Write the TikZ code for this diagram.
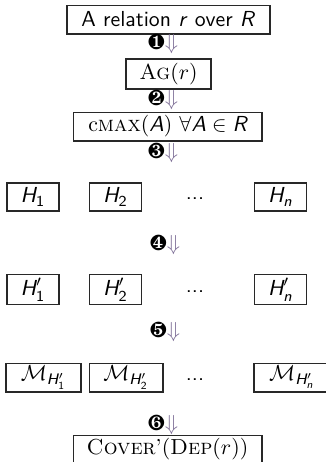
\documentclass[tikz,border=0pt]{standalone}
\usepackage{amsmath}
\usepackage{amssymb}
\usepackage{pifont}
\definecolor{arr}{RGB}{125,110,150}
\definecolor{boxline}{RGB}{40,40,40}
\newcommand\sfH{\text{\sffamily\itshape H}}
\newcommand\sfA{\text{\sffamily\itshape A}}
\newcommand\sfR{\text{\sffamily\itshape R}}
\newcommand\sfn{\text{\sffamily\itshape n}}
\newcommand\sfd[1]{\text{\sffamily #1}}
\newcommand\steplab[1]{\ding{#1}\textcolor{arr}{$\Downarrow$}}
\begin{document}
\begin{tikzpicture}[x=0.46pt,y=-0.46pt,
  box/.style={draw=boxline,line width=0.5pt,inner sep=0pt,minimum height=13.3pt},
  hbox/.style={box,minimum width=23.9pt,minimum height=12.9pt},
  hpbox/.style={box,minimum width=23.9pt,minimum height=14.2pt},
  lab/.style={inner sep=0pt},
  dots/.style={inner sep=0pt}]
\useasboundingbox (0,0) rectangle (326,462);
% top
\node[box,minimum width=93.4pt] (rel) at (168.5,19.5) {\sffamily A relation \textit{r} over \textit{R}};
\node[lab] (s1) at (163,44) {\steplab{182}};
\node[box,minimum width=39.1pt,minimum height=13.8pt] (ag) at (168.5,74) {\textsc{Ag}$(r)$};
\node[lab] (s2) at (163,100) {\steplab{183}};
\node[box,minimum width=86.9pt] (cmax) at (167.5,126.5) {c\textsc{max}$(\sfA)\ \forall\sfA\in\sfR$};
\node[lab] (s3) at (163,153) {\steplab{184}};
% H row
\node[hbox] (h1) at (33,197) {$\sfH_{\sfd{1}}$};
\node[hbox] (h2) at (115.5,197) {$\sfH_{\sfd{2}}$};
\node[dots] (hd) at (195,199) {\sffamily ...};
\node[hbox] (hn) at (280.5,197) {$\sfH_{\sfn}$};
\node[lab] (s4) at (165,245) {\steplab{185}};
% H' row
\node[hpbox] (hp1) at (33,289.5) {$\sfH'_{\sfd{1}}$};
\node[hpbox] (hp2) at (115.5,289.5) {$\sfH'_{\sfd{2}}$};
\node[dots] (hpd) at (195,292) {\sffamily ...};
\node[hpbox] (hpn) at (280.5,289.5) {$\sfH'_{\sfn}$};
\node[lab] (s5) at (165,332) {\steplab{186}};
% M row
\node[box,minimum width=34.5pt] (m1) at (43.5,377.5) {$\mathcal{M}_{\sfH'_{\sfd{1}}}$};
\node[box,minimum width=34pt] (m2) at (126,377.5) {$\mathcal{M}_{\sfH'_{\sfd{2}}}$};
\node[dots] (md) at (195,380) {\sffamily ...};
\node[box,minimum width=35pt] (mn) at (292,377.5) {$\mathcal{M}_{\sfH'_{\sfn}}$};
\node[lab] (s6) at (163,425) {\steplab{187}};
% bottom
\node[box,minimum width=86.9pt] (cov) at (167.5,449.5) {\textsc{Cover}'$($\textsc{Dep}$(r))$};
\end{tikzpicture}
\end{document}
